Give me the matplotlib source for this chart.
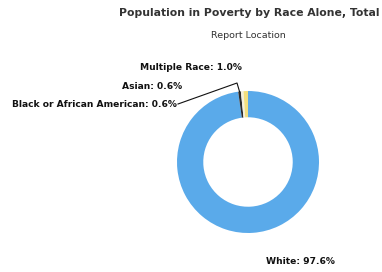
import numpy as np
import matplotlib
matplotlib.use('Agg')
import matplotlib.pyplot as plt

# Daten
races = ['White', 'Black or African American', 'Asian', 'Multiple Race']
shares = [97.6, 0.6, 0.6, 1.0]
colors = ['#5aaaea', '#2b2b2b', '#f4f0dc', '#f3df7e']

W, H = 382, 272
cx, cy, r = 248, 162, 71  # Mittelpunkt und Radius in Pixeln


def px(x, y):
    """Pixelkoordinaten -> Datenkoordinaten der Pie-Achse."""
    return (x - cx) / r, (cy - y) / r


fig = plt.figure(figsize=(W / 100, H / 100), dpi=100)
ax = fig.add_axes([(cx - r) / W, (H - cy - r) / H, 2 * r / W, 2 * r / H])

wedges, _ = ax.pie(shares, colors=colors, startangle=90, counterclock=False,
                   radius=1, wedgeprops=dict(width=0.37, linewidth=0))
ax.set_xlim(-1, 1)
ax.set_ylim(-1, 1)
ax.set_aspect('equal')
ax.axis('off')

# Titel
fig.text(249 / W, 1 - 13 / H, 'Population in Poverty by Race Alone, Total',
         ha='center', va='center', fontsize=7.8, color='#333333',
         fontweight='semibold')
fig.text(248 / W, 1 - 35 / H, 'Report Location', ha='center', va='center',
         fontsize=6.8, color='#333333')

# Beschriftungen
label_pos = {
    'Multiple Race': (242, 68, 'right'),
    'Asian': (182, 87, 'right'),
    'Black or African American': (177, 105, 'right'),
    'White': (300, 262, 'center'),
}
for name, val in zip(races, shares):
    x, y, ha = label_pos[name]
    tx, ty = px(x, y)
    ax.text(tx, ty, f'{name}: {val:.1f}%', ha=ha, va='center', fontsize=6.6,
            fontweight='bold', color='#111111', clip_on=False)

# Verbindungslinie für die kleine Scheibe
w = wedges[1]
ang = np.deg2rad((w.theta1 + w.theta2) / 2)
sx, sy = np.cos(ang), np.sin(ang)
kx, ky = px(237, 83)
lx, ly = px(178, 104)
ax.plot([lx, kx, sx], [ly, ky, sy], color='#111111', lw=0.8, clip_on=False)

fig.savefig('out.png', dpi=100, facecolor='white')
